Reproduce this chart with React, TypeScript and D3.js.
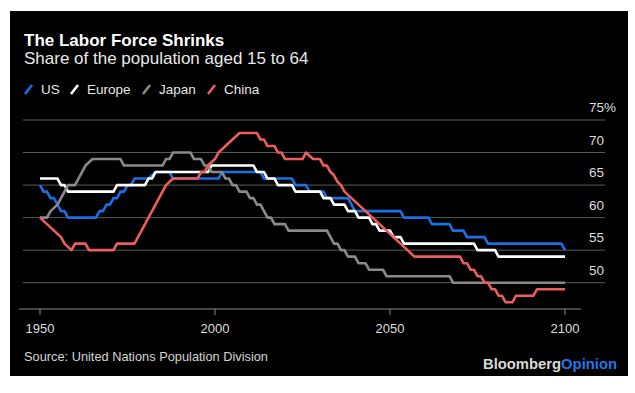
import * as d3 from 'd3'

// Polyline vertices: [year, share of population aged 15-64 (%)]
const US: [number, number][] = [
  [1950, 65], [1951, 64], [1952, 64], [1953, 63], [1954, 63], [1955, 62], [1956, 61], [1957, 61],
  [1958, 60], [1966, 60], [1967, 61], [1968, 61], [1969, 62], [1970, 62], [1971, 63], [1972, 63],
  [1973, 64], [1974, 64], [1975, 65], [1976, 65], [1977, 66], [1981, 66], [1982, 66.5], [1983, 67],
  [1987, 67], [1988, 66], [2001, 66], [2002, 67], [2013, 67], [2014, 66], [2022, 66], [2023, 65],
  [2026, 65], [2027, 64], [2031, 64], [2032, 63], [2038, 63], [2039, 62], [2040, 61], [2053, 61],
  [2054, 60], [2061, 60], [2062, 59], [2067, 59], [2068, 58], [2071, 58], [2072, 57], [2077, 57],
  [2078, 56], [2099, 56], [2100, 55],
]

const EUROPE: [number, number][] = [
  [1950, 66], [1955, 66], [1956, 65], [1957, 65], [1958, 64], [1971, 64], [1972, 65], [1980, 65],
  [1981, 66], [1982, 66], [1983, 67], [1998, 67], [1999, 68], [2011, 68], [2012, 67], [2014, 67],
  [2015, 66], [2017, 66], [2018, 65], [2022, 65], [2023, 64], [2030, 64], [2031, 63], [2033, 63],
  [2034, 62], [2037, 62], [2038, 61], [2040, 61], [2041, 60], [2044, 60], [2045, 59], [2046, 59],
  [2047, 58], [2050, 58], [2051, 57], [2053, 57], [2054, 56], [2074, 56], [2075, 55], [2080, 55],
  [2081, 54], [2100, 54],
]

const JAPAN: [number, number][] = [
  [1950, 60], [1952, 60], [1953, 61], [1954, 61.5], [1955, 62], [1956, 63], [1957, 64], [1958, 65],
  [1960, 65], [1961, 66], [1962, 67], [1963, 68], [1964, 68.5], [1965, 69], [1973, 69], [1974, 68],
  [1985, 68], [1986, 69], [1987, 69], [1988, 70], [1993, 70], [1994, 69], [1996, 69], [1997, 68],
  [1998, 68], [1999, 67], [2002, 67], [2003, 66], [2004, 66], [2005, 65], [2006, 65], [2007, 64],
  [2009, 64], [2010, 63], [2011, 63], [2012, 62], [2013, 62], [2014, 61], [2015, 60], [2016, 60],
  [2017, 59], [2020, 59], [2021, 58], [2032, 58], [2033, 57], [2034, 56], [2035, 56], [2036, 55],
  [2037, 55], [2038, 54], [2040, 54], [2041, 53], [2043, 53], [2044, 52], [2048, 52], [2049, 51],
  [2067, 51], [2068, 50], [2100, 50],
]

const CHINA: [number, number][] = [
  [1950, 60], [1951, 59.5], [1952, 59], [1953, 58.5], [1954, 58], [1955, 57.5], [1956, 57],
  [1957, 56], [1958, 55.5], [1959, 55], [1960, 56], [1963, 56], [1964, 55], [1971, 55], [1972, 56],
  [1977, 56], [1986, 65], [1987, 65.5], [1988, 66], [1995, 66], [1996, 67], [1997, 67], [1998, 68],
  [1999, 68.5], [2000, 69], [2001, 70], [2002, 70.5], [2003, 71], [2004, 71.5], [2005, 72],
  [2006, 72.5], [2007, 73], [2012, 73], [2013, 72], [2014, 72], [2015, 71], [2017, 71], [2018, 70],
  [2019, 70], [2020, 69], [2025, 69], [2026, 70], [2027, 69.5], [2028, 69], [2030, 69], [2031, 68],
  [2032, 68], [2033, 67], [2034, 66.5], [2035, 65.5], [2036, 65], [2037, 64], [2038, 63.5],
  [2040, 62.5], [2043, 61], [2045, 60], [2048, 58.5], [2050, 57.5], [2053, 56], [2055, 55],
  [2057, 54], [2070, 54], [2071, 53], [2072, 53], [2073, 52], [2074, 52], [2075, 51], [2076, 51],
  [2077, 50], [2078, 50], [2079, 49], [2080, 49], [2081, 48], [2082, 48], [2083, 47], [2085, 47],
  [2086, 48], [2091, 48], [2092, 49], [2100, 49],
]

const SERIES_NAMES = ['US', 'Europe', 'Japan', 'China']
const SERIES_DATA = [US, EUROPE, JAPAN, CHINA]
const SERIES_COLORS = ['#1b6fe6', '#ffffff', '#8a8a8a', '#ec5e5b']
const LEGEND_X = [24, 70, 142, 207]

const Y_TICKS = [50, 55, 60, 65, 70, 75]
const X_TICKS = [1950, 2000, 2050, 2100]

const FONT = '"Liberation Sans", Arial, Helvetica, sans-serif'

export default function App() {
  const x = d3.scaleLinear().domain([1950, 2100]).range([40, 565])
  const y = d3.scaleLinear().domain([50, 75]).range([282.7, 120])
  const axisY = 309

  const line = d3
    .line<[number, number]>()
    .x((d) => x(d[0]))
    .y((d) => y(d[1]))

  return (
    <svg
      width={635}
      height={393}
      style={{ position: 'absolute', left: 0, top: 0, background: '#fff' }}
      fontFamily={FONT}
    >
      <rect x={10} y={11} width={618} height={365} fill="#000" />

      {/* header */}
      <text x={24} y={46} fill="#fff" fontSize={17} fontWeight="bold">
        The Labor Force Shrinks
      </text>
      <text x={24} y={64} fill="#e8e8e8" fontSize={17}>
        Share of the population aged 15 to 64
      </text>

      {/* legend */}
      {SERIES_NAMES.map((name, i) => (
        <g key={name} transform={`translate(${LEGEND_X[i]},94)`}>
          <line x1={1} y1={0} x2={8} y2={-9} stroke={SERIES_COLORS[i]} strokeWidth={2.6} />
          <text x={17} y={0} fill="#e6e6e6" fontSize={13.5}>
            {name}
          </text>
        </g>
      ))}

      {/* grid */}
      {Y_TICKS.map((t) => (
        <g key={t}>
          <line x1={23} x2={605} y1={y(t)} y2={y(t)} stroke="#5a5a5a" strokeWidth={1} />
          <text x={604} y={y(t) - 8} fill="#dedede" fontSize={13.5} textAnchor="end">
            {t}
          </text>
          {t === 75 && (
            <text x={604} y={y(t) - 8} fill="#dedede" fontSize={13.5}>
              %
            </text>
          )}
        </g>
      ))}

      {/* x axis */}
      <line x1={19} x2={581} y1={axisY} y2={axisY} stroke="#8a8a8a" strokeWidth={1} />
      {X_TICKS.map((t) => (
        <g key={t}>
          <line x1={x(t)} x2={x(t)} y1={axisY} y2={axisY + 6} stroke="#8a8a8a" strokeWidth={1} />
          <text x={x(t)} y={333} fill="#dedede" fontSize={13} textAnchor="middle">
            {t}
          </text>
        </g>
      ))}

      {/* series */}
      {SERIES_DATA.map((data, i) => (
        <path
          key={SERIES_NAMES[i]}
          d={line(data) ?? ''}
          fill="none"
          stroke={SERIES_COLORS[i]}
          strokeWidth={2.6}
          strokeLinejoin="round"
        />
      ))}

      {/* footer */}
      <text x={24} y={361} fill="#d4d4d4" fontSize={12.8}>
        Source: United Nations Population Division
      </text>
      <text x={617} y={369} fontSize={14.8} fontWeight="bold" textAnchor="end">
        <tspan fill="#d9d9d9">Bloomberg</tspan>
        <tspan fill="#1f78ea">Opinion</tspan>
      </text>
    </svg>
  )
}
